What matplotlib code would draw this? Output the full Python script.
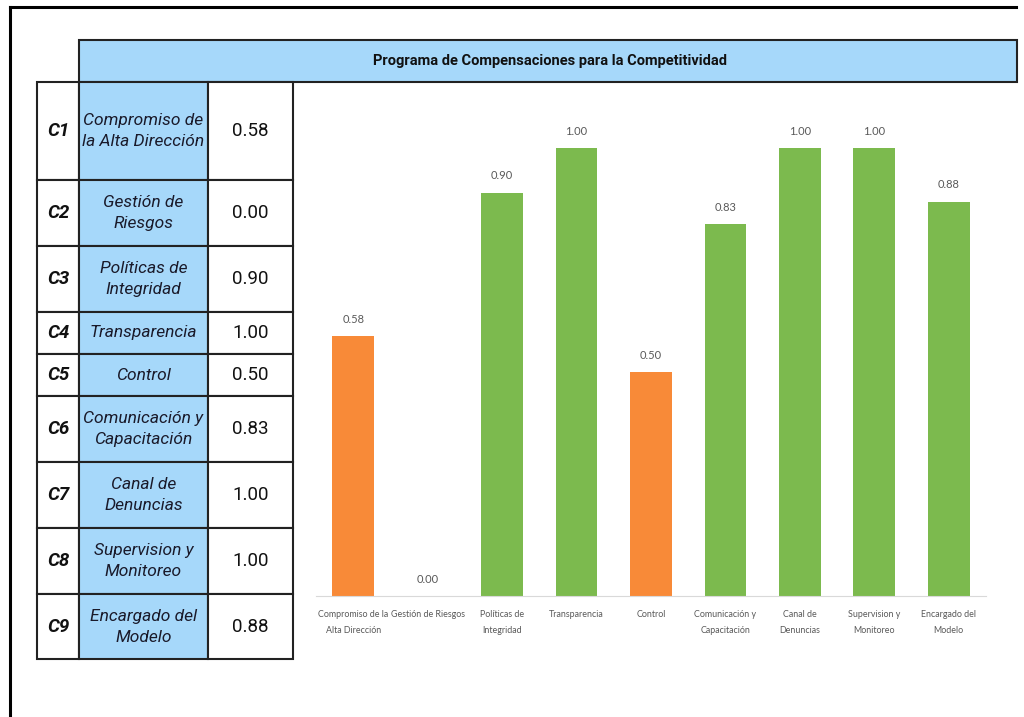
import matplotlib.pyplot as plt
from matplotlib.patches import Rectangle

codes = ["C1", "C2", "C3", "C4", "C5", "C6", "C7", "C8", "C9"]
table_names = [
    "Compromiso de\nla Alta Dirección",
    "Gestión de\nRiesgos",
    "Políticas de\nIntegridad",
    "Transparencia",
    "Control",
    "Comunicación y\nCapacitación",
    "Canal de\nDenuncias",
    "Supervision y\nMonitoreo",
    "Encargado del\nModelo",
]
chart_labels = [
    "Compromiso de la\nAlta Dirección",
    "Gestión de Riesgos",
    "Políticas de\nIntegridad",
    "Transparencia",
    "Control",
    "Comunicación y\nCapacitación",
    "Canal de\nDenuncias",
    "Supervision y\nMonitoreo",
    "Encargado del\nModelo",
]
scores = [0.58, 0.00, 0.90, 1.00, 0.50, 0.83, 1.00, 1.00, 0.88]
title = "Programa de Compensaciones para la Competitividad"

ORANGE = "#F88A38"
GREEN = "#7CBA4E"
BLUE = "#A6D8FA"
W, H = 1024, 717
NARROW = ["Roboto", "Liberation Sans", "DejaVu Sans"]
CHART_FONT = ["Lato", "DejaVu Sans"]

fig = plt.figure(figsize=(W / 100, H / 100), dpi=100)
bg = fig.add_axes([0, 0, 1, 1])
bg.set_xlim(0, W)
bg.set_ylim(H, 0)
bg.axis("off")

# outer frame (top and left edges visible)
bg.plot([10, 1016], [7, 7], color="black", lw=2.2)
bg.plot([10, 10], [7, H], color="black", lw=2.2)

# header band
bg.add_patch(Rectangle((79, 40), 1017 - 79, 42, facecolor=BLUE, edgecolor="#222222", lw=1.5))
bg.text(550, 61, title, ha="center", va="center", fontsize=10.5,
        fontweight="bold", family=NARROW, color="#111111")

# table
row_edges = [82, 180, 246, 312, 354, 396, 462, 528, 594, 659]
col_edges = [37, 79, 208, 293]
for i in range(len(codes)):
    y0, y1 = row_edges[i], row_edges[i + 1]
    bg.add_patch(Rectangle((col_edges[0], y0), col_edges[1] - col_edges[0], y1 - y0,
                           facecolor="white", edgecolor="#222222", lw=1.5))
    bg.add_patch(Rectangle((col_edges[1], y0), col_edges[2] - col_edges[1], y1 - y0,
                           facecolor=BLUE, edgecolor="#222222", lw=1.5))
    bg.add_patch(Rectangle((col_edges[2], y0), col_edges[3] - col_edges[2], y1 - y0,
                           facecolor="white", edgecolor="#222222", lw=1.5))
    yc = (y0 + y1) / 2
    bg.text((col_edges[0] + col_edges[1]) / 2, yc, codes[i], ha="center", va="center",
            fontsize=13.5, fontweight="bold", fontstyle="italic", family=NARROW, color="#111111")
    bg.text((col_edges[1] + col_edges[2]) / 2, yc, table_names[i], ha="center", va="center",
            fontsize=12.5, fontstyle="italic", family=NARROW, color="#1a1a2a", linespacing=1.5)
    bg.text((col_edges[2] + col_edges[3]) / 2, yc, f"{scores[i]:.2f}", ha="center", va="center",
            fontsize=13.5, family=NARROW, color="#111111")

# bar chart
x0, x1 = 316, 986
base, top = 596, 103
ax = fig.add_axes([x0 / W, 1 - base / H, (x1 - x0) / W, (base - top) / H])
colors = [ORANGE if v < 0.6 else GREEN for v in scores]
pos = list(range(len(scores)))
bars = ax.bar(pos, scores, width=0.56, color=colors)
ax.set_xlim(-0.5, len(scores) - 0.5)
ax.set_ylim(0, 1.1)
for b, v in zip(bars, scores):
    ax.text(b.get_x() + b.get_width() / 2, v + 0.025, f"{v:.2f}", ha="center", va="bottom",
            fontsize=8, color="#595959", family=CHART_FONT)
ax.set_xticks(pos)
ax.set_xticklabels(chart_labels, fontsize=6.4, color="#595959", family=CHART_FONT,
                   linespacing=2.0)
ax.tick_params(axis="x", length=0, pad=10)
ax.set_yticks([])
for s in ["top", "right", "left"]:
    ax.spines[s].set_visible(False)
ax.spines["bottom"].set_color("#D9D9D9")
ax.set_facecolor("none")

fig.savefig("out.png", dpi=100)
